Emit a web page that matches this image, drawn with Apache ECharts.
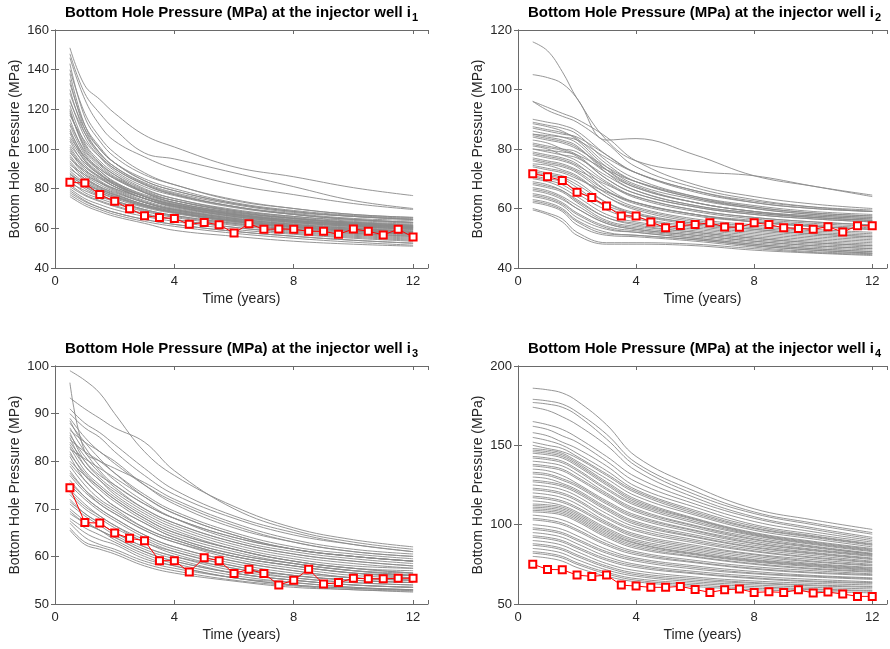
<!DOCTYPE html>
<html>
<head>
<meta charset="utf-8">
<script src="https://cdn.jsdelivr.net/npm/echarts@6/dist/echarts.min.js"></script>
<style>
html,body{margin:0;padding:0;background:#fff;}
#chart{width:890px;height:649px;}
</style>
</head>
<body>
<div id="chart"></div>
<script>
// ---------- DATA ----------
const titleBase = 'Bottom Hole Pressure (MPa) at the injector well i';
const wellSubs = ['1', '2', '3', '4'];
const xAxisName = 'Time (years)';
const yAxisName = 'Bottom Hole Pressure (MPa)';
const xTicks = [0, 4, 8, 12];

// times at which ensemble curves are read
const ensT = [0.5, 1, 1.5, 2, 3, 4, 6, 8, 10, 12];
// observation times
const obsT = [0.5, 1, 1.5, 2, 2.5, 3, 3.5, 4, 4.5, 5, 5.5, 6, 6.5, 7, 7.5, 8, 8.5, 9, 9.5, 10, 10.5, 11, 11.5, 12];

const obs1 = [83.2, 82.8, 77, 73.6, 69.9, 66.4, 65.4, 65, 62, 63, 61.8, 57.6, 62.3, 59.5, 59.7, 59.5, 58.5, 58.5, 57, 59.7, 58.5, 56.7, 59.5, 55.6];
const obs2 = [71.7, 70.7, 69.4, 65.5, 63.7, 60.8, 57.5, 57.5, 55.5, 53.5, 54.3, 54.6, 55.2, 53.8, 53.7, 55.2, 54.6, 53.5, 53.3, 53, 53.9, 52.1, 54.2, 54.2];
const obs3 = [74.4, 67.1, 67, 64.9, 63.8, 63.3, 59.1, 59.1, 56.7, 59.7, 59.1, 56.4, 57.3, 56.4, 54, 55, 57.3, 54.2, 54.5, 55.4, 55.3, 55.3, 55.4, 55.4];
const obs4 = [75.1, 71.8, 71.6, 68.2, 67.4, 68.2, 61.9, 61.3, 60.5, 60.5, 61.1, 59.2, 57.3, 59, 59.4, 57.3, 57.7, 57.3, 59, 56.9, 57.5, 56.3, 54.8, 54.8];

const ens1 = [
 [151, 132, 125, 118, 107, 101, 91, 86, 80.5, 76.5],
 [148, 128, 118, 110, 98, 95, 88, 81, 74, 70],
 [146, 125, 112, 104, 96, 90, 82, 77, 72.5, 69.5],
 [143, 116, 104, 96, 87, 82, 74, 70, 67, 65.5],
 [140, 118, 106, 98, 88, 82, 74.5, 70, 67, 65.5],
 [138, 112, 100, 93, 85, 80, 73, 69, 66.5, 65],
 [135, 110, 98, 91, 83, 78, 72, 68, 66, 64.5],
 [133, 112, 101, 93, 84, 79, 72.5, 68.5, 66, 64.5],
 [130, 108, 97, 90, 82, 77, 71, 67.5, 65, 64],
 [128, 110, 100, 93, 84, 79, 72.5, 68.5, 66, 64.5],
 [125, 106, 96, 89, 81, 76.5, 70.5, 67, 64.5, 63],
 [124, 108, 98, 91, 82.5, 77.5, 71, 67, 64.5, 63],
 [122, 103, 94, 88, 80, 75, 69.5, 66, 63.5, 62],
 [120, 100, 92, 86, 79, 74, 68.5, 65, 63, 61.5],
 [119, 101, 92.5, 87, 79.5, 75, 69, 65.5, 63, 61.5],
 [118, 102, 93, 87, 78, 73, 67.5, 64, 62, 60.5],
 [117, 104, 96, 90, 82, 77, 71, 67, 64.5, 63],
 [115, 98, 90, 85, 78, 74, 69, 66, 64, 62.5],
 [113, 99, 91, 85.5, 78.5, 74, 68.5, 65, 62.5, 61],
 [112, 97, 89, 83, 76, 72, 67, 64, 62, 60.5],
 [110, 95, 88, 82, 76, 72, 67.5, 64.5, 62.5, 61],
 [109, 96, 89, 83.5, 76.5, 72.5, 67, 63.5, 61.5, 60],
 [108, 94, 87, 82, 75, 71, 66, 63, 61, 59.5],
 [106, 96, 90, 85, 78, 73, 68, 65, 63, 61.5],
 [105, 94, 87.5, 82.5, 76, 71.5, 66.5, 63.5, 61.5, 60],
 [104, 92, 86, 81, 75, 71, 66, 63, 61, 59.5],
 [102, 93, 87, 83, 77, 73, 68, 65, 62.5, 61],
 [101, 91, 85.5, 81, 75, 70.5, 66, 63, 61, 59.5],
 [100, 90, 84, 80, 74, 70, 65.5, 62.5, 60.5, 59],
 [99, 89, 83.5, 79.5, 73.5, 69.5, 65, 62, 60, 58.5],
 [98, 91, 86, 82, 76, 72, 67, 64, 62, 60.5],
 [97, 88, 83, 79, 73, 69.5, 65, 62, 60, 58.5],
 [96, 87, 82, 78.5, 73, 69, 64.5, 61.5, 59.5, 58],
 [95, 89, 85, 81, 75, 71, 66.5, 63.5, 61.5, 60],
 [94, 86, 81, 77.5, 72, 68.5, 64, 61, 59, 57.5],
 [93, 85, 80.5, 77, 72, 68.5, 64, 61, 59, 57.5],
 [92, 87, 83, 80, 75, 71.5, 67, 64, 62, 60.5],
 [91, 84, 80, 76.5, 71.5, 68, 63.5, 60.5, 58.5, 57],
 [90, 85, 81, 78, 73, 69.5, 65, 62, 60, 58.5],
 [89, 83, 79, 76, 71, 68, 63.5, 60.5, 58.5, 57],
 [88, 82, 78, 75, 70.5, 67.5, 63, 60, 58, 56.5],
 [87.5, 81, 77, 74, 69.5, 66.5, 62.5, 59.5, 57.5, 56],
 [87, 83, 79.5, 77, 72, 69, 64.5, 61.5, 59.5, 58],
 [86, 80, 76.5, 74, 69.5, 66.5, 62.5, 59.5, 57.5, 56],
 [86, 82, 79, 76, 71.5, 68, 64, 61, 59, 57.5],
 [85, 81, 78, 75.5, 71, 68, 63.5, 60.5, 58.5, 57],
 [84, 78, 75, 72.5, 68.5, 65.5, 61.5, 58.5, 56.5, 55],
 [83, 79, 76, 73.5, 69, 66, 62, 59, 57, 55.5],
 [82, 77, 74, 71.5, 67.5, 64.5, 60.5, 57.5, 55.5, 54],
 [81, 76.5, 73.5, 71, 67, 64.5, 60.5, 58, 56, 54.5],
 [80, 75, 72, 69.5, 66, 63.5, 59.5, 57, 55, 53.5],
 [79, 74, 70.5, 68, 64.5, 62, 58.5, 56, 54, 52.5],
 [78, 73.5, 70.5, 68, 64.5, 62, 58.5, 56, 54, 52.5],
 [77, 72.5, 69.5, 67, 63.5, 61, 57.5, 55, 53, 51.5],
 [76, 71.5, 68.5, 66, 62.5, 59, 56, 53.5, 52, 51]
];

const ens2 = [
 [116, 113, 106, 97, 83, 76, 72.5, 71, 67.5, 64],
 [105, 104, 102, 97, 83, 83.5, 78, 71, 67.5, 64.5],
 [96, 94, 92, 90, 84, 76, 68, 64, 61.5, 60],
 [96, 93, 91, 89, 82, 74, 67, 63, 60.5, 59],
 [90, 89, 88, 86, 78, 72, 66, 62, 60, 59],
 [89, 88, 87, 85, 76, 70, 64, 60.5, 58.5, 57.5],
 [88.5, 87.5, 86, 83, 74, 68, 63, 60, 58, 57],
 [87.5, 86.5, 85.5, 83.5, 75, 69, 63.5, 60, 58, 57],
 [87, 86, 85, 84, 78, 72, 65.5, 62, 60, 59],
 [86, 85, 84, 82, 73, 67, 62, 59, 57.5, 56.5],
 [85, 84.5, 84, 83, 77, 72, 66, 62.5, 60.5, 59.5],
 [85, 84, 83, 81, 72, 66, 61, 58.5, 57, 56],
 [84.5, 83.5, 82.5, 80.5, 73, 67.5, 62, 59, 57, 56],
 [84, 83, 82, 80, 74, 69, 63.5, 60.5, 58.5, 57.5],
 [83, 82, 80, 78, 70, 65, 60.5, 58, 56.5, 55.5],
 [82, 81, 80, 79, 72, 67, 62, 59, 57.5, 56.5],
 [81.5, 80.5, 79.5, 77.5, 70, 65, 60.5, 58, 56.5, 55.5],
 [81, 80, 78, 76, 69, 64, 59.5, 57, 55.5, 54.5],
 [80, 79.5, 79, 78, 73, 69, 64, 61, 59, 58],
 [80, 79, 78, 77, 71, 66, 61, 58.5, 57, 56],
 [79, 78, 77, 75, 67, 62, 58, 56, 54.5, 53.5],
 [78.5, 77.5, 76.5, 74.5, 68.5, 63.5, 59, 56.5, 55, 54],
 [78, 77, 76, 74, 66, 61.5, 57.5, 55.5, 54, 53],
 [77, 76, 75, 73, 68, 64, 59.5, 57, 55.5, 54.5],
 [76.5, 75.5, 74.5, 72.5, 66, 62, 58, 55.5, 54, 53],
 [76, 75, 74, 72, 65, 60.5, 56.5, 54.5, 53, 52],
 [75, 74.5, 73, 71, 64, 59.5, 55.5, 53.5, 52, 51],
 [74.5, 73.5, 72.5, 70.5, 64, 60, 56, 54, 52.5, 51.5],
 [74, 73, 72, 70, 65.5, 62, 58, 55.5, 54, 53],
 [73, 72, 71, 69, 62, 58, 54.5, 52.5, 51, 50],
 [72.5, 71.5, 70.5, 68, 62, 58.5, 55, 53, 51.5, 50.5],
 [72, 71, 70, 67, 60.5, 57, 54, 52, 50.5, 49.5],
 [71, 70, 69, 66, 61, 58, 55, 53, 51.5, 50.5],
 [70.5, 69.5, 68, 65, 59.5, 56.5, 53.5, 51.5, 50, 49],
 [70, 69, 67, 64, 58, 55.5, 53, 51, 49.5, 48.5],
 [69, 68, 66, 63, 57, 55, 52.5, 50.5, 49, 48],
 [68.5, 67.5, 66, 62.5, 57, 54.5, 52, 50, 48.5, 47.5],
 [68, 67, 65.5, 62, 56, 54, 52, 50, 48.5, 47.5],
 [67, 66, 64, 61, 55.5, 53.5, 51.5, 49.5, 48, 47],
 [66.5, 65.5, 63.5, 60, 55, 53, 51, 49, 47.5, 46.5],
 [66, 65, 63, 60, 55, 53, 51, 49, 47.5, 46.5],
 [65, 64, 62, 58.5, 54, 52.5, 50.5, 48.5, 47, 46],
 [64.5, 63.5, 61.5, 58, 53.5, 52, 50, 48, 46.5, 45.5],
 [64, 63, 61, 57, 53, 52, 50, 48, 46.5, 45.5],
 [63, 62, 60, 56, 52, 51, 49.5, 47.5, 46, 45],
 [62.5, 61.5, 59.5, 55.5, 51.5, 51, 49.5, 47.5, 46, 45],
 [62, 61, 59, 54.5, 51, 50.5, 49, 47, 45.5, 44.8],
 [60, 58.5, 56.5, 52, 48.5, 48.5, 48, 46.5, 45.2, 44.5],
 [59.5, 58, 55.5, 51, 48, 48, 47.5, 46, 45, 44.2]
];

const ens3 = [
 [99, 97, 94.3, 90, 82, 77, 70.5, 66, 63.5, 62],
 [93.3, 91, 89, 87, 84, 78, 70, 65.5, 63, 61.5],
 [96.5, 82, 80, 78.5, 75.5, 72, 67, 63.5, 61.5, 60.5],
 [91, 88, 86, 83.5, 78.5, 74, 68.5, 65, 62.5, 61],
 [90, 87, 85, 82, 77, 73, 68, 64.5, 62.5, 61],
 [89, 85, 82, 80, 75, 71, 66, 63, 61, 60],
 [88.5, 83, 79, 76, 71.5, 68, 63.5, 61, 59.5, 58.5],
 [88, 84, 80.5, 77.5, 72.5, 69, 64.5, 61.5, 60, 59],
 [87, 82, 78, 75, 71, 68, 64, 61.5, 60, 59],
 [86.5, 84, 82, 79.5, 75, 71.5, 66.5, 63, 61, 60],
 [86, 80, 76.5, 74, 70, 67, 63, 60.5, 59, 58],
 [85.5, 81, 77.5, 74.5, 70, 67, 63, 60.5, 59, 58],
 [85, 79, 76, 73, 69, 66, 62, 59.5, 58, 57.5],
 [84.5, 82, 80, 77.5, 73, 69.5, 65, 62, 60.5, 59.5],
 [84, 80, 77, 75, 71, 68, 64, 61.5, 60, 59],
 [83.5, 79, 76, 73.5, 69.5, 66.5, 62.5, 60, 58.5, 57.5],
 [83, 78, 75, 72.5, 68.5, 65.5, 61.5, 59, 57.5, 56.5],
 [82.5, 80.5, 78.5, 76.5, 72.5, 69, 64.5, 61.5, 60, 59],
 [82, 77, 74, 71.5, 67.5, 64.5, 61, 58.5, 57, 56],
 [81.5, 77.5, 74.5, 72, 68, 65, 61.5, 59, 57.5, 56.5],
 [81, 76, 73, 70.5, 67, 64, 60.5, 58.5, 57, 56.5],
 [80, 77, 74.5, 72, 68, 65, 61.5, 59, 57.5, 57],
 [79.5, 76, 73, 70.5, 67, 64, 60.5, 58.5, 57, 56],
 [79, 75, 72, 70, 66, 63.5, 60, 58, 56.5, 56],
 [78, 74, 71, 69, 65.5, 63, 59.5, 57.5, 56, 55.5],
 [77.5, 74, 71.5, 69.5, 66, 63.5, 60, 58, 56.5, 55.5],
 [77, 73.5, 71, 69, 65.5, 63, 60, 58, 56.5, 56],
 [76, 72.5, 70, 68, 64.5, 62, 59, 57, 55.5, 55],
 [75.5, 72.5, 70, 68, 64.5, 62, 59, 57, 55.5, 55],
 [75, 72, 69.5, 67.5, 64, 61.5, 58.5, 56.5, 55.5, 55],
 [74, 71, 68.5, 66.5, 63, 61, 58, 56, 55, 54.5],
 [73.5, 70.5, 68.5, 66.5, 63.5, 61, 58, 56, 55, 54.5],
 [73, 70, 68, 66, 63, 60.5, 57.5, 56, 55, 54.5],
 [72, 69, 67, 65, 62, 60, 57, 55.5, 54.5, 54],
 [71.5, 69, 67, 65, 62, 60, 57.5, 55.5, 54.5, 54],
 [71, 68.5, 66.5, 64.5, 61.5, 59.5, 56.5, 55, 54, 53.5],
 [70, 67.5, 65.5, 64, 61, 59, 56.5, 55, 54, 53.5],
 [69.5, 67, 65.5, 64, 61, 59, 56.5, 55, 54, 53.5],
 [69, 67, 65.5, 63.5, 60.5, 58.5, 56, 54.5, 53.5, 53],
 [68, 66, 64.5, 63, 60, 58, 55.5, 54, 53.3, 53],
 [67.5, 65, 63.5, 62.5, 59.5, 58, 55.5, 54.5, 53.5, 53],
 [67, 64, 62.5, 61.5, 59, 57.5, 55.5, 54, 53.3, 52.8],
 [66, 63, 62, 61, 58.5, 57, 55, 53.8, 53, 52.7],
 [65.5, 62.5, 61.5, 60.5, 58, 56.5, 54.8, 53.5, 53, 52.5]
];

const ens4 = [
 [186, 185, 183, 178, 163, 143, 124, 110, 103, 97],
 [179, 178, 176, 171, 157, 139, 121, 108, 101, 95],
 [177, 176, 174, 169, 154, 137, 119, 107, 100, 94],
 [174, 172, 168, 163, 150, 134, 117, 105, 98, 92],
 [165, 163, 160, 155, 143, 130, 115, 104, 97, 91],
 [162, 160, 156, 152, 140, 127, 113, 102, 95.5, 90],
 [158, 156, 152, 148, 137, 124, 111, 100, 94, 89],
 [155, 153, 150, 145, 134, 122, 109, 99, 93, 88],
 [152, 150, 148, 143, 132, 121, 108, 98, 92.5, 87.5],
 [150, 148, 146, 142, 131, 120, 107, 97.5, 92, 87],
 [148, 147, 145, 140, 129, 118, 106, 96.5, 91, 86],
 [147, 146, 144, 139, 127, 116, 104, 95, 89.5, 85],
 [146, 145, 143, 138, 126, 115, 103.5, 94.5, 89, 84.5],
 [145, 144, 142, 137, 125, 114, 103, 94, 88.5, 84],
 [143, 142, 140, 135, 123, 113, 102, 93.5, 88, 83.5],
 [142, 141, 139, 134, 122, 112, 101, 93, 87.5, 83],
 [140, 139, 137, 132, 120, 110, 99.5, 92, 86.5, 82],
 [138, 137, 135, 130, 119, 109, 99, 91, 86, 81.5],
 [137, 136, 134, 129, 118, 108, 98, 90.5, 85.5, 81.5],
 [135, 134, 131, 126, 115, 106, 96.5, 89.5, 84.5, 81],
 [133, 132, 129, 125, 114, 105, 96, 88.5, 84, 80.5],
 [132, 131, 128, 124, 113, 104, 95, 88, 83.5, 80],
 [130, 129, 126, 122, 111, 102, 93.5, 87, 82.5, 79],
 [128, 127, 125, 121, 110, 101, 92.5, 86, 82, 78.5],
 [127, 126, 124, 120, 109, 100, 92, 85.5, 81.5, 78],
 [125, 124, 122, 118, 107, 98.5, 90.5, 84.5, 80.5, 77],
 [123, 122, 120, 116, 105, 97, 89.5, 83.5, 79.5, 76.5],
 [122, 121, 119, 115, 104, 96, 88.5, 83, 79, 76],
 [120, 119, 117, 113, 102, 94, 87, 81.5, 78, 75],
 [118, 117, 115, 111, 101, 93, 86, 81, 77, 74.5],
 [117, 116, 114, 110, 100, 92, 85, 80, 76.5, 74],
 [115, 114, 112, 108, 98, 90.5, 84, 79, 75.5, 73],
 [113, 112.5, 111, 107, 97, 89.5, 83, 78, 75, 72.5],
 [112, 111.5, 110, 106, 96, 88.5, 82, 77.5, 74.5, 72],
 [111, 110.5, 109, 105, 95, 88, 81.5, 77, 74, 71.5],
 [110, 109.5, 108, 104, 94, 87, 81, 76.5, 73.5, 71],
 [109, 108.5, 107, 103, 93, 86, 80, 75.5, 72.5, 70.5],
 [108, 107.5, 106, 102, 92, 85, 79.5, 75, 72, 70],
 [106, 105, 103, 99, 89.5, 83, 77.5, 73.5, 71, 69],
 [104, 103, 101, 97, 88, 82, 76.5, 72.5, 70, 68.5],
 [103, 102, 100, 96, 87, 81, 76, 72, 69.5, 68],
 [100, 99, 97, 93, 84.5, 79, 74, 70.5, 68, 66.5],
 [98, 97, 95, 91, 83, 78, 73, 69.5, 67.5, 66],
 [97, 96, 94, 90, 82, 77, 72, 69, 67, 65.5],
 [95, 94, 92, 88, 80, 75, 70.5, 67.5, 65.5, 64],
 [93, 92, 90, 86, 78.5, 74, 69.5, 66.5, 64.5, 63.5],
 [92, 91, 89, 85, 77.5, 73, 69, 66, 64, 63],
 [90, 89, 87, 83, 75.5, 71, 67, 64.5, 63, 62],
 [88, 87, 85, 81, 74, 69.5, 66, 63.5, 62, 61],
 [87, 86, 84, 80, 73, 68.5, 65, 63, 61.5, 60.5],
 [85, 84, 82, 78, 71.5, 67.5, 64, 62, 60.5, 59.5],
 [83, 82, 80, 76, 70, 66, 63, 61, 59.5, 58.5],
 [82, 81, 79, 75, 69, 65, 62, 60, 59, 58],
 [80, 79, 77, 73, 67.5, 64, 61, 59, 58, 57]
];

const yMin = [40, 40, 50, 50];
const yMax = [160, 120, 100, 200];
const yStep = [20, 20, 10, 50];
const xMin = 0, xMax = 12.5, xStep = 4;

// ---------- LAYOUT ----------
const grids = [
  {left: 55, top: 30, width: 373, height: 238},
  {left: 518, top: 30, width: 371, height: 238},
  {left: 55, top: 366, width: 373, height: 238},
  {left: 518, top: 366, width: 371, height: 238}
];
const FONT = '"Liberation Sans", Arial, Helvetica, sans-serif';
const AX = '#262626';
const BOX = '#6a6a6a';
const ensembles = [ens1, ens2, ens3, ens4];
const observed = [obs1, obs2, obs3, obs4];

const chart = echarts.init(document.getElementById('chart'), null, {renderer: 'canvas'});

const xAxes = [], yAxes = [], series = [], graphics = [];
const ctx = document.createElement('canvas').getContext('2d');
const TFS = 15, SFS = 11;

grids.forEach((g, p) => {
  const base = {
    gridIndex: p, type: 'value', min: xMin, max: xMax, interval: xStep,
    axisLine: {show: true, lineStyle: {color: BOX, width: 1}},
    axisTick: {show: true, inside: true, length: 4, lineStyle: {color: BOX}},
    splitLine: {show: false}
  };
  xAxes.push(Object.assign({}, base, {
    position: 'bottom',
    name: xAxisName, nameLocation: 'middle', nameGap: 24,
    nameTextStyle: {fontFamily: FONT, fontSize: 14, color: AX},
    axisLabel: {show: true, margin: 7, fontFamily: FONT, fontSize: 13, color: AX,
      formatter: v => (xTicks.indexOf(v) >= 0 ? String(v) : '')}
  }));
  xAxes.push(Object.assign({}, base, {position: 'top', axisLabel: {show: false}}));
  const ybase = {
    gridIndex: p, type: 'value', min: yMin[p], max: yMax[p], interval: yStep[p],
    axisLine: {show: true, lineStyle: {color: BOX, width: 1}},
    axisTick: {show: true, inside: true, length: 4, lineStyle: {color: BOX}},
    splitLine: {show: false}
  };
  yAxes.push(Object.assign({}, ybase, {
    position: 'left',
    name: yAxisName, nameLocation: 'middle', nameGap: 33,
    nameTextStyle: {fontFamily: FONT, fontSize: 14, color: AX},
    axisLabel: {show: true, margin: 6, fontFamily: FONT, fontSize: 13, color: AX}
  }));
  yAxes.push(Object.assign({}, ybase, {position: 'right', axisLabel: {show: false}}));

  const xi = p * 2, yi = p * 2;
  ensembles[p].forEach(row => {
    series.push({
      type: 'line', xAxisIndex: xi, yAxisIndex: yi,
      data: ensT.map((t, i) => [t, row[i]]),
      showSymbol: false, symbol: 'none', smooth: 0.4,
      lineStyle: {color: '#8a8a8a', width: 0.9}, silent: true, z: 2
    });
  });
  series.push({
    type: 'line', xAxisIndex: xi, yAxisIndex: yi,
    data: obsT.map((t, i) => [t, observed[p][i]]),
    symbol: 'emptyRect', symbolSize: 7, showSymbol: true,
    lineStyle: {color: '#ff0000', width: 1},
    itemStyle: {color: '#ff0000', borderColor: '#ff0000', borderWidth: 1},
    z: 5, silent: true
  });

  // title with subscript
  ctx.font = 'bold ' + TFS + 'px ' + FONT;
  const wMain = ctx.measureText(titleBase).width;
  ctx.font = 'bold ' + SFS + 'px ' + FONT;
  const wSub = ctx.measureText(wellSubs[p]).width;
  const total = wMain + wSub + 1;
  const cx = g.left + g.width / 2 + (p % 2 === 1 ? 1 : 0);
  const ty = g.top - 17;
  const x0 = cx - total / 2;
  graphics.push({
    type: 'text', x: x0, y: ty,
    style: {text: titleBase, font: 'bold ' + TFS + 'px ' + FONT, fill: '#000', align: 'left', verticalAlign: 'middle'}
  });
  graphics.push({
    type: 'text', x: x0 + wMain + 1, y: ty + 5,
    style: {text: wellSubs[p], font: 'bold ' + SFS + 'px ' + FONT, fill: '#000', align: 'left', verticalAlign: 'middle'}
  });
});

chart.setOption({
  animation: false,
  backgroundColor: '#fff',
  textStyle: {fontFamily: FONT},
  grid: grids,
  xAxis: xAxes,
  yAxis: yAxes,
  series: series,
  graphic: graphics
});
</script>
</body>
</html>
